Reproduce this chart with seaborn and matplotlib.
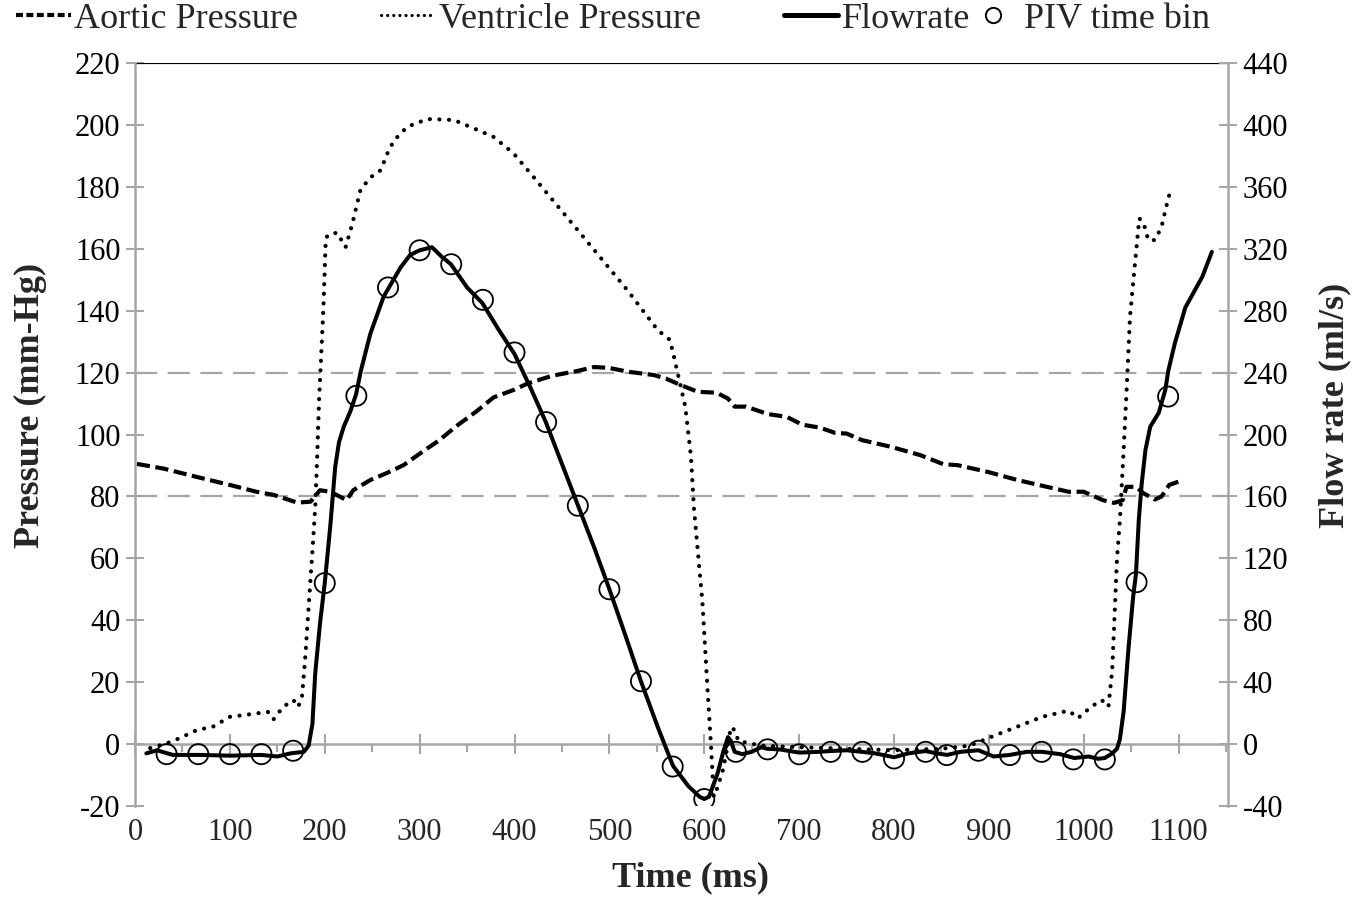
import numpy as np
import pandas as pd
import matplotlib
matplotlib.use("Agg")
import matplotlib.pyplot as plt
from matplotlib.ticker import MultipleLocator
from matplotlib.lines import Line2D
import seaborn as sns

# ---------------- data ----------------
aortic_t = [2, 30, 65, 100, 128, 146, 171, 185, 195, 206, 223, 230, 248, 265, 283, 301, 320, 340,
            360, 378, 400, 414, 440, 466, 484, 500, 519, 547, 560, 575, 593, 613, 625, 632, 644, 667,
            687, 703, 722, 738, 750, 766, 797, 828, 852, 867, 899, 930, 961, 984, 1000, 1020, 1032,
            1041, 1045, 1055, 1063, 1075, 1082, 1090, 1100]
aortic_p = [90.5, 89, 86.3, 83.7, 81.5, 80.5, 78, 78.3, 82, 81.5, 78.8, 82, 85.3, 87.5, 90.1, 94, 98,
            103, 107.5, 112, 114.5, 116.5, 119, 120.5, 121.8, 121.5, 120.3, 119.2, 118, 116, 113.8,
            113.5, 111.6, 109, 109, 106.6, 105.7, 103.2, 102.2, 100.5, 100.3, 98.2, 96, 93.3, 90.4,
            90.1, 87.9, 85.3, 83.1, 81.5, 81.5, 78.8, 77.9, 78.8, 83.1, 83.1, 81, 79, 80, 83.7, 84.8]

vent_t = [16, 33, 47, 65, 82, 100, 128, 140, 146, 156, 167, 172, 176, 179.5, 183, 186.6, 190, 192,
          194, 198.6, 201, 203, 213, 222, 229, 237.6, 248, 259, 266, 273, 287, 308, 336, 357, 378,
          399, 420, 449, 484, 519, 551, 564, 572, 580, 586, 589, 598, 603, 607, 610, 614, 620, 625,
          628, 632, 636, 660, 700, 750, 800, 850, 880, 903, 913, 934, 956, 984, 994, 1008, 1019,
          1026, 1030, 1035, 1038, 1042, 1045.5, 1048.7, 1052, 1056, 1058.5, 1063, 1068, 1075, 1082,
          1086, 1091]
vent_p = [-1.3, 0.2, 1.9, 4.5, 5.6, 8.8, 9.9, 10.4, 8, 12, 14.2, 12, 15.3, 28.2, 44.3, 60.5, 76.6,
          92.8, 111, 141, 162.8, 164.4, 165.2, 160.5, 168, 179, 183, 185.4, 190.8, 195, 199.4, 201.9,
          201.6, 198.9, 196.1, 190.8, 183.2, 172.5, 159.6, 146.6, 133.7, 130.5, 119.8, 109, 92.8,
          76.6, 46, 20, 0, -17, -14, -8, 0, 5.5, 4.5, 1, -0.5, -1, -1.5, -2, -1.5, -0.5, 2.4, 3.6,
          6.1, 8.8, 10.8, 8.4, 12.1, 14.2, 12.1, 24, 60, 72, 95, 116.6, 138, 148.9, 161.8, 169.8,
          168.3, 162.8, 162.8, 167.1, 172.5, 178.4]

flow_t = [12, 23, 40, 70, 100, 133, 150, 164, 178, 183, 187, 190, 195, 200, 206, 211, 215, 220, 227,
          233, 238, 248, 262, 280, 290, 300, 313, 323, 333, 350, 366, 383, 400, 417, 433, 450, 467,
          484, 500, 517, 533, 551, 567, 583, 595, 600, 605, 614, 620, 625, 628, 632, 640, 650, 660,
          666, 680, 700, 720, 733, 750, 766, 780, 800, 815, 833, 845, 856, 870, 889, 905, 922, 940,
          956, 975, 990, 1005, 1015, 1022, 1030, 1035, 1038, 1042, 1047, 1052, 1055, 1058, 1061,
          1065, 1070, 1079, 1086, 1089, 1096, 1107, 1125, 1135]
flow_q = [-6, -4, -7, -7, -7.5, -7, -8, -6, -5, -1, 13, 46, 78, 104, 142, 179, 195, 205, 215, 226,
          241, 265, 289, 308, 316, 319, 321, 315, 310, 295, 285, 268, 252, 230, 208, 181, 154, 127,
          100, 70, 41, 11, -14, -27, -34, -35.5, -34, -19, -5, 4.5, 2, -5, -6.5, -5, -2, -3, -3.5,
          -5.5, -5, -4.5, -4, -5, -6, -8.5, -6, -4.5, -6, -7, -5, -4, -8, -7, -5, -5, -6.5, -9, -8,
          -9.5, -9, -6, -3, 3, 21, 61, 95, 110, 145, 168, 190, 205, 214, 229, 241, 259, 282, 302, 318]

piv_t = [33.3, 66.7, 100, 133.3, 166.7, 200, 233.3, 266.7, 300, 333.3, 366.7, 400, 433.3, 466.7,
         500, 533.3, 566.7, 600, 633.3, 666.7, 700, 733.3, 766.7, 800, 833.3, 855.6, 888.9, 922.2,
         955.6, 988.9, 1022.2, 1055.6, 1088.9]
piv_q = [-6.5, -6.5, -6.5, -6.5, -4.3, 104, 225, 295, 319, 310, 287, 253, 208, 154, 100, 40.6,
         -14.5, -35.5, -5, -3.4, -6.6, -5, -5, -9.3, -5, -7.1, -4.3, -7.1, -5, -9.9, -9.9, 104.6,
         224.5]

x_ticks = list(range(0, 1101, 100))
p_ticks = list(range(-20, 221, 20))
q_ticks = list(range(-40, 441, 40))

labels = ["Aortic Pressure", "Ventricle Pressure", "Flowrate", "PIV time bin"]

# ---------------- styling ----------------
sns.set_theme(style="white")
plt.rcParams["font.family"] = ["Liberation Serif", "DejaVu Serif"]
plt.rcParams["axes.unicode_minus"] = False
plt.rcParams["lines.scale_dashes"] = False
GRAY = "#a6a6a6"
FS = 22
TFS = 26

AORTIC_DASH = (0, (9.5, 4.0))
VENT_DOT = (0, (0.1, 6.8))

fig = plt.figure(figsize=(13.69, 9), dpi=100)
ax = fig.add_axes([135 / 1369, 1 - 806 / 900, (1228 - 135) / 1369, (806 - 63) / 900])
ax.patch.set_alpha(0)
ax2 = ax.twinx()

ax.set_xlim(0, 1152)
ax.set_ylim(-20, 220)
ax2.set_ylim(-40, 440)

# reference lines
for yv in (80, 120):
    ax.axhline(yv, color=GRAY, lw=1.6, linestyle=(0, (16, 7.5)), zorder=1)
ax.axhline(220, color="black", lw=1.6, zorder=1)

# data lines
sns.lineplot(x=aortic_t, y=aortic_p, ax=ax, color="black", lw=3.0, estimator=None, sort=False)
ax.lines[-1].set_linestyle(AORTIC_DASH)
sns.lineplot(x=vent_t, y=vent_p, ax=ax, color="black", lw=3.0, estimator=None, sort=False)
ax.lines[-1].set_linestyle(VENT_DOT)
ax.lines[-1].set_dash_capstyle("round")

sns.lineplot(x=flow_t, y=flow_q, ax=ax2, color="black", lw=2.9, estimator=None, sort=False)
sns.scatterplot(x=piv_t, y=piv_q, ax=ax2, marker="o", s=210, color="black", linewidth=1.3, zorder=5)
ax2.collections[-1].set_facecolor("none")
ax2.collections[-1].set_edgecolor("black")

# spines
for s in ("top", "right", "bottom"):
    ax.spines[s].set_visible(False)
for s in ("top", "left", "bottom"):
    ax2.spines[s].set_visible(False)
ax.spines["left"].set_color(GRAY)
ax.spines["left"].set_linewidth(1.8)
ax2.spines["right"].set_color(GRAY)
ax2.spines["right"].set_linewidth(1.8)

ax.set_yticks(p_ticks)
ax2.set_yticks(q_ticks)
ax.tick_params(axis="y", direction="inout", length=13, width=1.5, color=GRAY, labelsize=FS, pad=4,
               left=True, labelcolor="black")
ax2.tick_params(axis="y", direction="inout", length=13, width=1.5, color=GRAY, labelsize=FS, pad=4,
                right=True, labelcolor="black")

ax.set_xticks(x_ticks)
ax.tick_params(axis="x", length=0, labelsize=FS, pad=9, bottom=True)
ax.set_xlabel("")
ax.set_ylabel("")
ax2.set_ylabel("")
ax.grid(False)
ax2.grid(False)

# horizontal axis line at 0 with its tick marks
sec = ax.secondary_xaxis(20 / 240)
sec.set_xticks(x_ticks)
sec.xaxis.set_minor_locator(MultipleLocator(50))
sec.tick_params(which="major", direction="inout", length=14, width=1.5, color=GRAY, labelbottom=False)
sec.tick_params(which="minor", direction="out", length=6, width=1.5, color=GRAY)
sec.spines["bottom"].set_color(GRAY)
sec.spines["bottom"].set_linewidth(1.8)

# axis titles
fig.text(30 / 1369, 1 - 405 / 900, "Pressure (mm-Hg)", rotation=90, fontweight="bold", fontsize=TFS,
         ha="center", va="center")
fig.text(1335 / 1369, 1 - 405 / 900, "Flow rate (ml/s)", rotation=90, fontweight="bold", fontsize=TFS,
         ha="center", va="center")
fig.text(690 / 1369, 1 - 878 / 900, "Time (ms)", fontweight="bold", fontsize=TFS, ha="center",
         va="center")

# legend (line entries, then the marker entry placed closer as in the reference)
handles = [
    Line2D([], [], color="black", lw=3.0, linestyle=(0, (5, 2.5))),
    Line2D([], [], color="black", lw=2.3, linestyle=(0, (0.1, 4.3)), dash_capstyle="round"),
    Line2D([], [], color="black", lw=3.6),
    Line2D([], [], color="black", marker="o", markersize=11, markerfacecolor="none", lw=0,
           markeredgewidth=1.4),
]
leg_kw = dict(frameon=False, fontsize=26, handlelength=1.5, handletextpad=0.1, borderaxespad=0,
              borderpad=0)
leg1 = fig.legend(handles[:3], labels[:3], loc="upper left", bbox_to_anchor=(0.012, 0.997), ncol=3,
                  columnspacing=2.3, **leg_kw)
fig.legend(handles[3:], labels[3:], loc="upper left", bbox_to_anchor=(966 / 1369, 0.997), ncol=1,
           **leg_kw)

fig.savefig("out.png", dpi=100)
